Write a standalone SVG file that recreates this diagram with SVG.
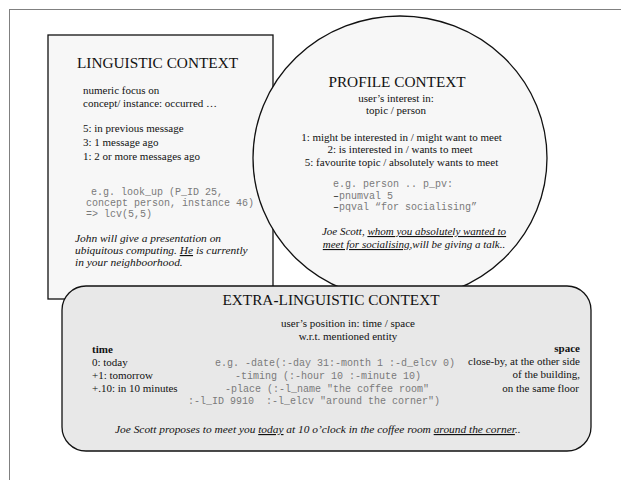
<svg xmlns="http://www.w3.org/2000/svg" width="621" height="480" viewBox="0 0 621 480">
  <style>
    .frame { fill: none; stroke: #808080; stroke-width: 1; }
    .panel { stroke: #111; stroke-width: 1.3; }
    .title { font-family: "Liberation Serif", "Times New Roman", serif; font-size: 15.3px; fill: #111; }
    .body { font-family: "Liberation Serif", "Times New Roman", serif; font-size: 11px; fill: #111; }
    .bold { font-weight: bold; }
    .ital { font-style: italic; }
    .wide { font-size: 11.4px; }
    .code { font-family: "Liberation Mono", "Courier New", monospace; font-size: 10px; fill: #7a7a7a; }
    .dash { fill: #222; }
    .mid { text-anchor: middle; }
    .end { text-anchor: end; }
    .u { text-decoration: underline; }
  </style>

  <rect width="621" height="480" fill="#ffffff"/>
  <!-- outer frame, runs off the right and bottom edges -->
  <rect class="frame" x="9.5" y="9.5" width="640" height="500"/>

  <g id="linguistic">
    <rect class="panel" x="48" y="35" width="225" height="264" fill="#f7f7f7"/>
    <text class="title" x="77" y="68">LINGUISTIC CONTEXT</text>
    <text class="body" x="83" y="94">numeric focus on</text>
    <text class="body" x="83" y="107">concept/ instance: occurred …</text>
    <text class="body" x="83" y="132">5: in previous message</text>
    <text class="body" x="83" y="146">3: 1 message ago</text>
    <text class="body" x="83" y="160">1: 2 or more messages ago</text>
    <text class="code" x="91" y="195">e.g. look_up (P_ID 25,</text>
    <text class="code" x="86" y="206">concept person, instance 46)</text>
    <text class="code" x="86" y="217">=&gt; lcv(5,5)</text>
    <text class="body ital wide" x="75" y="242">John will give a presentation on</text>
    <text class="body ital wide" x="75" y="254">ubiquitous computing. <tspan class="u">He</tspan> is currently</text>
    <text class="body ital wide" x="75" y="266">in your neighboorhood.</text>
  </g>

  <g id="profile">
    <ellipse class="panel" cx="400" cy="158" rx="147" ry="142" fill="#f7f7f7"/>
    <text class="title mid" x="397" y="87">PROFILE CONTEXT</text>
    <text class="body mid" x="396" y="101.5">user’s interest in:</text>
    <text class="body mid" x="396" y="114">topic / person</text>
    <text class="body mid" x="401.5" y="140.5">1: might be interested in / might want to meet</text>
    <text class="body mid" x="400" y="153">2: is interested in / wants to meet</text>
    <text class="body mid" x="401.5" y="166">5: favourite topic / absolutely wants to meet</text>
    <text class="code" x="333" y="187">e.g. person .. p_pv:</text>
    <text class="code" x="333" y="198.5"><tspan class="dash">–</tspan>pnumval 5</text>
    <text class="code" x="333" y="210"><tspan class="dash">–</tspan>pqval “for socialising”</text>
    <text class="body ital mid" x="414" y="235">Joe Scott, <tspan class="u">whom you absolutely wanted to</tspan></text>
    <text class="body ital mid" x="414" y="248"><tspan class="u">meet for socialising</tspan>,will be giving a talk..</text>
  </g>

  <g id="extralinguistic">
    <rect class="panel" x="62" y="286" width="529" height="165" rx="24" ry="24" fill="#e8e8e8"/>
    <text class="title mid" x="331" y="305">EXTRA<tspan font-weight="bold">-</tspan>LINGUISTIC CONTEXT</text>
    <text class="body mid" x="348" y="326.5">user’s position in: time / space</text>
    <text class="body mid" x="348" y="340">w.r.t. mentioned entity</text>

    <text class="body bold" x="92" y="353">time</text>
    <text class="body" x="92" y="366">0: today</text>
    <text class="body" x="92" y="379">+1: tomorrow</text>
    <text class="body" x="92" y="392">+.10: in 10 minutes</text>

    <text class="code" x="215" y="366">e.g. -date(:-day 31:-month 1 :-d_elcv 0)</text>
    <text class="code" x="235" y="378.5">-timing (:-hour 10 :-minute 10)</text>
    <text class="code" x="225" y="391.5">-place (:-l_name "the coffee room"</text>
    <text class="code" x="188" y="403.5" xml:space="preserve">:-l_ID 9910  :-l_elcv "around the corner")</text>

    <text class="body bold end" x="580" y="352">space</text>
    <text class="body end" x="580" y="365">close-by, at the other side</text>
    <text class="body end" x="580" y="378">of the building,</text>
    <text class="body end" x="579" y="391.5">on the same floor</text>

    <text class="body ital wide" x="115" y="433">Joe Scott proposes to meet you <tspan class="u">today</tspan> at 10 o’clock in the coffee room <tspan class="u">around the corner</tspan>..</text>
  </g>
</svg>
